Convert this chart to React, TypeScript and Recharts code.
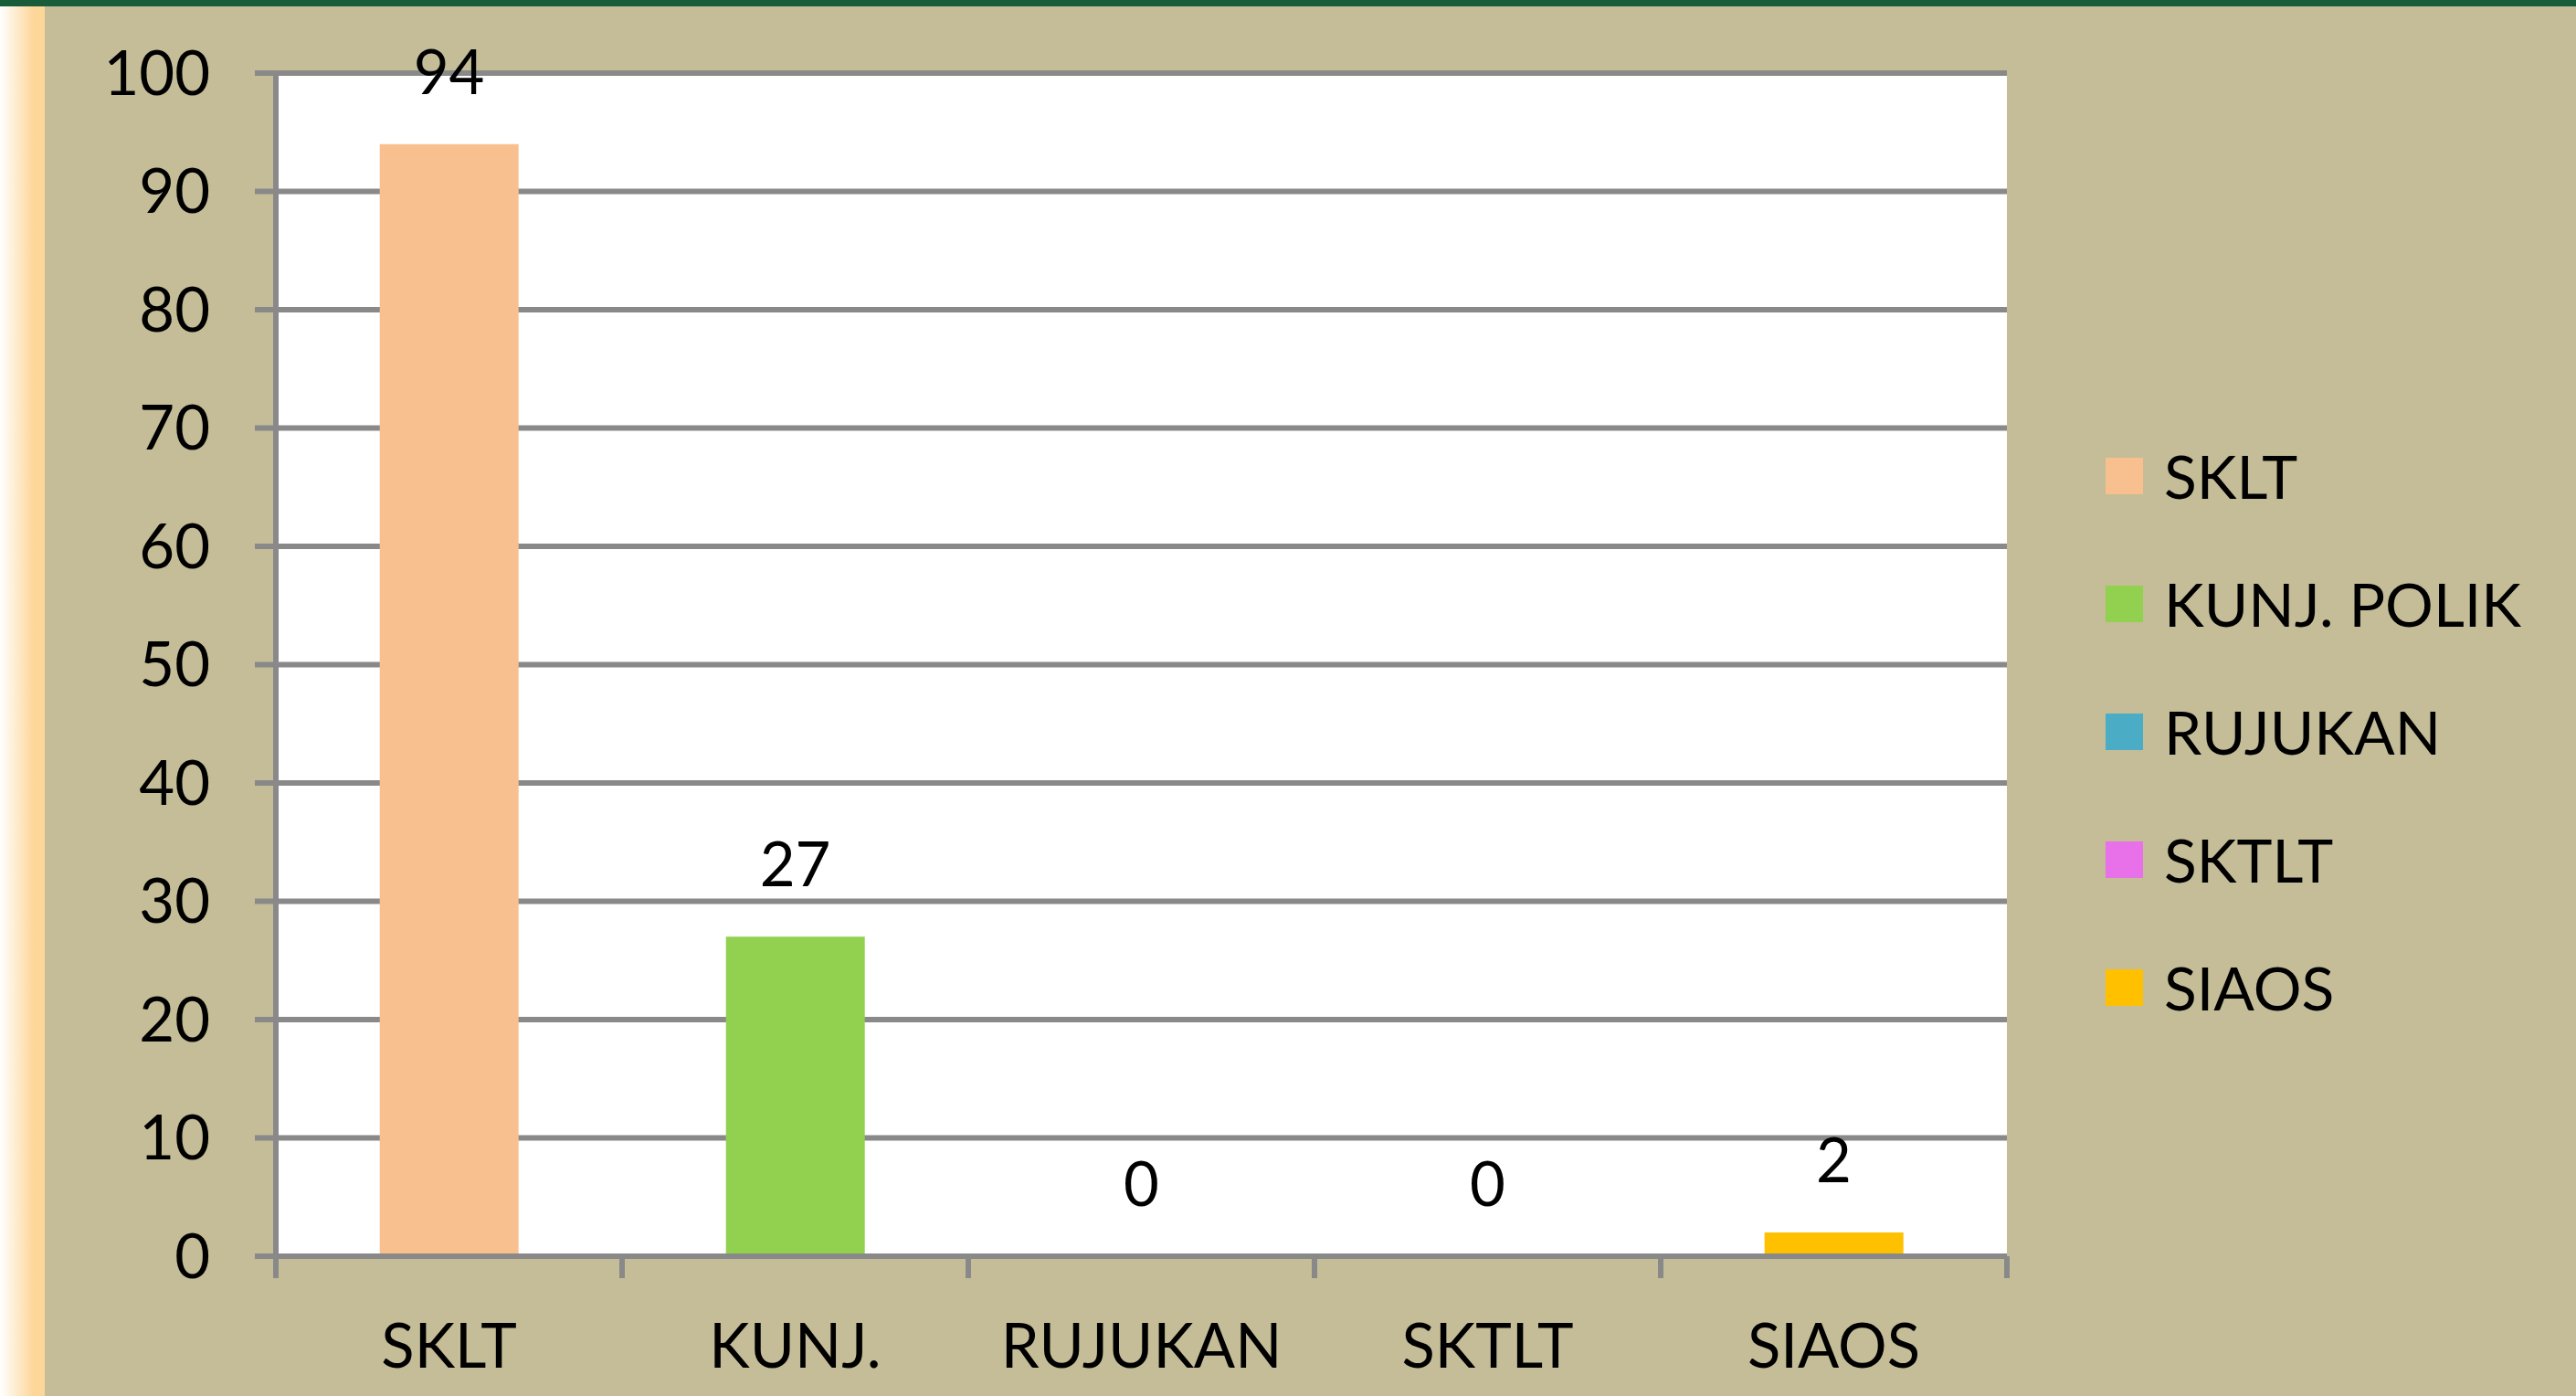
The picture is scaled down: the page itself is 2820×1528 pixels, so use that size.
import { Bar, CartesianGrid, Cell, ComposedChart, LabelList, Line, XAxis, YAxis } from "recharts";

const categories = ["SKLT", "KUNJ.", "RUJUKAN", "SKTLT", "SIAOS"];
const legendNames = ["SKLT", "KUNJ. POLIK", "RUJUKAN", "SKTLT", "SIAOS"];
const values = [94, 27, 0, 0, 2];
const colors = ["#f9c08f", "#92d050", "#4bacc6", "#e870e8", "#ffc000"];
const yTicks = [0, 10, 20, 30, 40, 50, 60, 70, 80, 90, 100];

const data = categories.map((name, i) => ({ name, value: values[i] }));

const GRID = "#898989";
const FONT = "Lato, 'Open Sans', sans-serif";
const FS = 67;
const TICK_SIZE = 24;
const TICK_MARGIN = 50;

// label + excel style tick marks between categories
const CategoryTick = (props: any) => {
  const { x, y, payload, index, visibleTicksCount } = props;
  const half = payload.offset ?? 0;
  const axisY = y - TICK_SIZE - TICK_MARGIN;
  return (
    <g>
      <line x1={x - half} x2={x - half} y1={axisY} y2={axisY + TICK_SIZE} stroke={GRID} strokeWidth={6} />
      {index === visibleTicksCount - 1 && (
        <line x1={x + half} x2={x + half} y1={axisY} y2={axisY + TICK_SIZE} stroke={GRID} strokeWidth={6} />
      )}
      <text x={x} y={y} dy="0.71em" textAnchor="middle" fill="#000" fontSize={FS} fontFamily={FONT}>
        {payload.value}
      </text>
    </g>
  );
};

const ChartLegend = () => (
  <div style={{ position: "absolute", left: 2305, top: 451, width: 515 }}>
    {legendNames.map((name, i) => (
      <div key={name} style={{ display: "flex", alignItems: "center", height: 140 }}>
        <span style={{ width: 41, height: 40, background: colors[i], marginRight: 23, flexShrink: 0 }} />
        <span style={{ fontSize: 66, fontFamily: FONT, color: "#000", lineHeight: 1, whiteSpace: "nowrap" }}>{name}</span>
      </div>
    ))}
  </div>
);

export default function App() {
  return (
    <div style={{ position: "absolute", left: 0, top: 0, width: 2820, height: 1528, background: "#c4bd97", overflow: "hidden" }}>
      <div style={{ position: "absolute", left: 0, top: 0, width: 2820, height: 7, background: "#185c39" }} />
      <div
        style={{
          position: "absolute",
          left: 0,
          top: 7,
          width: 49,
          height: 1521,
          background: "linear-gradient(to right, #ffffff 0%, #fdd69a 75%, #fdd69a 100%)",
        }}
      />
      <ComposedChart
        width={2820}
        height={1528}
        data={data}
        margin={{ top: 80, right: 623, bottom: 0, left: 0 }}
        barCategoryGap="30%"
      >
        <CartesianGrid vertical={false} stroke={GRID} strokeWidth={6} fill="#ffffff" fillOpacity={1} />
        <XAxis
          dataKey="name"
          height={153}
          interval={0}
          tickLine={false}
          tickSize={TICK_SIZE}
          tickMargin={TICK_MARGIN}
          axisLine={{ stroke: GRID, strokeWidth: 6 }}
          tick={<CategoryTick />}
        />
        <YAxis
          width={302}
          domain={[0, 100]}
          ticks={yTicks}
          interval={0}
          tickSize={23}
          tickMargin={49}
          tickLine={{ stroke: GRID, strokeWidth: 6 }}
          axisLine={{ stroke: GRID, strokeWidth: 6 }}
          tick={{ fill: "#000", fontSize: FS, fontFamily: FONT }}
        />
        <Bar dataKey="value" isAnimationActive={false}>
          {data.map((d, i) => (
            <Cell key={d.name} fill={colors[i]} />
          ))}
        </Bar>
        {/* invisible line only to carry the value labels (incl. zeros) */}
        <Line dataKey="value" stroke="none" dot={false} activeDot={false} isAnimationActive={false}>
          <LabelList dataKey="value" position="top" offset={55} fill="#000" fontSize={FS} fontFamily={FONT} />
        </Line>
      </ComposedChart>
      <ChartLegend />
    </div>
  );
}
